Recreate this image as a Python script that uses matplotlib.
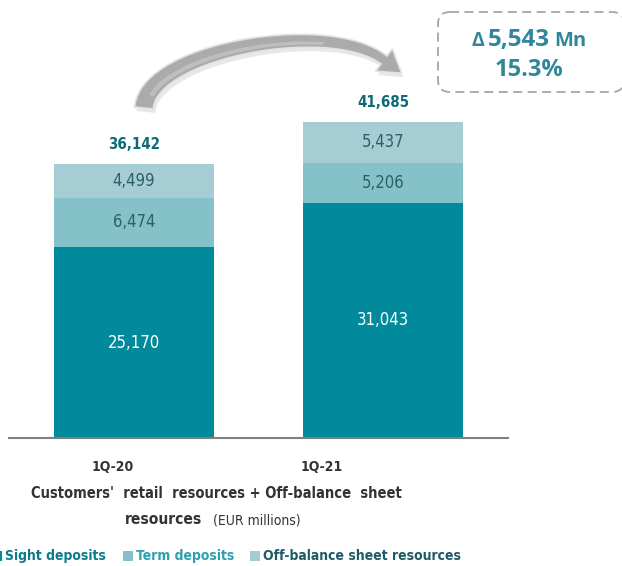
import numpy as np
import matplotlib
matplotlib.use("Agg")
import matplotlib.pyplot as plt
from matplotlib import font_manager
from matplotlib.patches import Polygon, FancyBboxPatch
from matplotlib.transforms import Affine2D

# Customers' retail resources + off-balance sheet resources (EUR millions)
periods = ["1Q-20", "1Q-21"]
sight_deposits = [25170, 31043]
term_deposits = [6474, 5206]
off_balance = [4499, 5437]
totals = [36142, 41685]
delta_parts = ["\u0394", "5,543", "Mn"]
delta_pct = "15.3%"

series_names = ["Sight deposits", "Term deposits", "Off-balance sheet resources"]
series_colors = ["#018a9b", "#84c1c9", "#a6cdd3"]
legend_text_colors = ["#0b7c8b", "#2e9fb0", "#1f5a66"]

# narrow sans for the chart text; DejaVu condensed if no Arial Narrow clone
names = {f.name for f in font_manager.fontManager.ttflist}
if "Liberation Sans Narrow" in names:
    plt.rcParams["font.family"] = ["Liberation Sans Narrow", "DejaVu Sans"]
    k = 1.25
else:
    plt.rcParams["font.family"] = ["DejaVu Sans"]
    plt.rcParams["font.stretch"] = "condensed"
    k = 1.0

W, H = 622, 566
fig = plt.figure(figsize=(W / 100, H / 100), dpi=100)
# pixel coordinates, origin top-left
px = Affine2D().scale(1 / W, -1 / H).translate(0, 1) + fig.transFigure

ax = fig.add_axes([9 / W, 128 / H, 499 / W, 418 / H])
x = np.arange(len(periods))
width = 0.643

b1 = ax.bar(x, sight_deposits, width, color=series_colors[0])
b2 = ax.bar(x, term_deposits, width, bottom=sight_deposits, color=series_colors[1])
bottom3 = np.array(sight_deposits) + np.array(term_deposits)
b3 = ax.bar(x, off_balance, width, bottom=bottom3, color=series_colors[2])

ax.bar_label(b1, labels=[f"{v:,}" for v in sight_deposits], label_type="center",
             color="white", fontsize=12 * k)
ax.bar_label(b2, labels=[f"{v:,}" for v in term_deposits], label_type="center",
             color="#2c5f69", fontsize=12 * k)
ax.bar_label(b3, labels=[f"{v:,}" for v in off_balance], label_type="center",
             color="#2c5f69", fontsize=12 * k)

for xi, t in zip(x, totals):
    ax.annotate(f"{t:,}", (xi, t), xytext=(0, 14), textcoords="offset points",
                ha="center", va="center", fontsize=10.8 * k, fontweight="bold",
                color="#0f6b78")

ax.set_xlim(-0.502, 1.502)
ax.set_ylim(0, 55100)
for s in ["top", "right", "left"]:
    ax.spines[s].set_visible(False)
ax.spines["bottom"].set_color("#7f7f7f")
ax.spines["bottom"].set_linewidth(1.5)
ax.set_xticks([])
ax.set_yticks([])

# category labels sit a little left of the bars
for lx, lab in zip([113, 322], periods):
    fig.text(lx, 467, lab, transform=px, ha="center", va="center",
             fontsize=10 * k, fontweight="bold", color="#333333")

fig.text(216, 493, "Customers'  retail  resources + Off-balance  sheet", transform=px,
         ha="center", va="center", fontsize=10.5 * k, fontweight="bold", color="#333333")
fig.text(202, 520, "resources", transform=px, ha="right", va="center",
         fontsize=11.2 * k, fontweight="bold", color="#333333")
fig.text(213, 520, "(EUR millions)", transform=px, ha="left", va="center",
         fontsize=10 * k, color="#333333")

# legend row
leg_x = [-8, 123, 250]
for lx, name, c, tc in zip(leg_x, series_names, series_colors, legend_text_colors):
    fig.add_artist(Polygon([(lx, 551), (lx + 10, 551), (lx + 10, 561), (lx, 561)],
                           closed=True, transform=px, facecolor=c, edgecolor="none"))
    fig.text(lx + 13, 556, name, transform=px, ha="left", va="center",
             fontsize=10 * k, fontweight="bold", color=tc)

# curved growth arrow
P = np.array([[144, 108], [148, 50], [330, 18], [384, 60]], dtype=float)
t = np.linspace(0, 1, 120)[:, None]
curve = ((1 - t) ** 3 * P[0] + 3 * (1 - t) ** 2 * t * P[1]
         + 3 * (1 - t) * t ** 2 * P[2] + t ** 3 * P[3])
d = np.gradient(curve, axis=0)
d /= np.linalg.norm(d, axis=1)[:, None]
nrm = np.column_stack([-d[:, 1], d[:, 0]])
hw = (9.5 - 4.5 * t[:, 0])[:, None]
side_a = curve + nrm * hw
side_b = curve - nrm * hw
end_dir = d[-1]
end_nrm = nrm[-1]
head_w = 14
tip = P[3] + end_dir * 22
head = [P[3] + end_nrm * head_w, tip, P[3] - end_nrm * head_w]
outline = np.vstack([side_a, head, side_b[::-1]])

fig.add_artist(Polygon(outline + [2, 4], closed=True, transform=px,
                       facecolor="#d9d9d9", edgecolor="none", alpha=0.6))
fig.add_artist(Polygon(outline, closed=True, transform=px,
                       facecolor="#ababab", edgecolor="#e3e3e3", linewidth=1.2))
fig.add_artist(Polygon(np.vstack([curve[10:90] + nrm[10:90] * hw[10:90] * 0.6,
                                  (curve[10:90] + nrm[10:90] * hw[10:90] * 0.1)[::-1]]),
                       closed=True, transform=px, facecolor="#c4c4c4",
                       edgecolor="none", alpha=0.8))

# delta box
box = FancyBboxPatch((438, 12), 186, 80, boxstyle="round,pad=0,rounding_size=12",
                     transform=px, facecolor="white", edgecolor="#a6a6a6",
                     linestyle=(0, (5, 3)), linewidth=1.3)
fig.add_artist(box)

box_font = dict(fontweight="bold", color="#31879a",
                family=["Open Sans", "DejaVu Sans"], fontstretch="normal")
renderer = fig.canvas.get_renderer()
sizes = [14, 17.5, 14.5]
pieces = []
for s, size in zip(delta_parts, sizes):
    tx = fig.text(0, 46, s, transform=px, ha="left", va="baseline", fontsize=size, **box_font)
    pieces.append((tx, tx.get_window_extent(renderer).width))
gap = 4
total_w = sum(w for _, w in pieces) + gap * (len(pieces) - 1)
cursor = 529 - total_w / 2
for tx, w in pieces:
    tx.set_x(cursor)
    cursor += w + gap
fig.text(529, 76, delta_pct, transform=px, ha="center", va="baseline",
         fontsize=17, **box_font)

fig.savefig("out.png", dpi=100)
